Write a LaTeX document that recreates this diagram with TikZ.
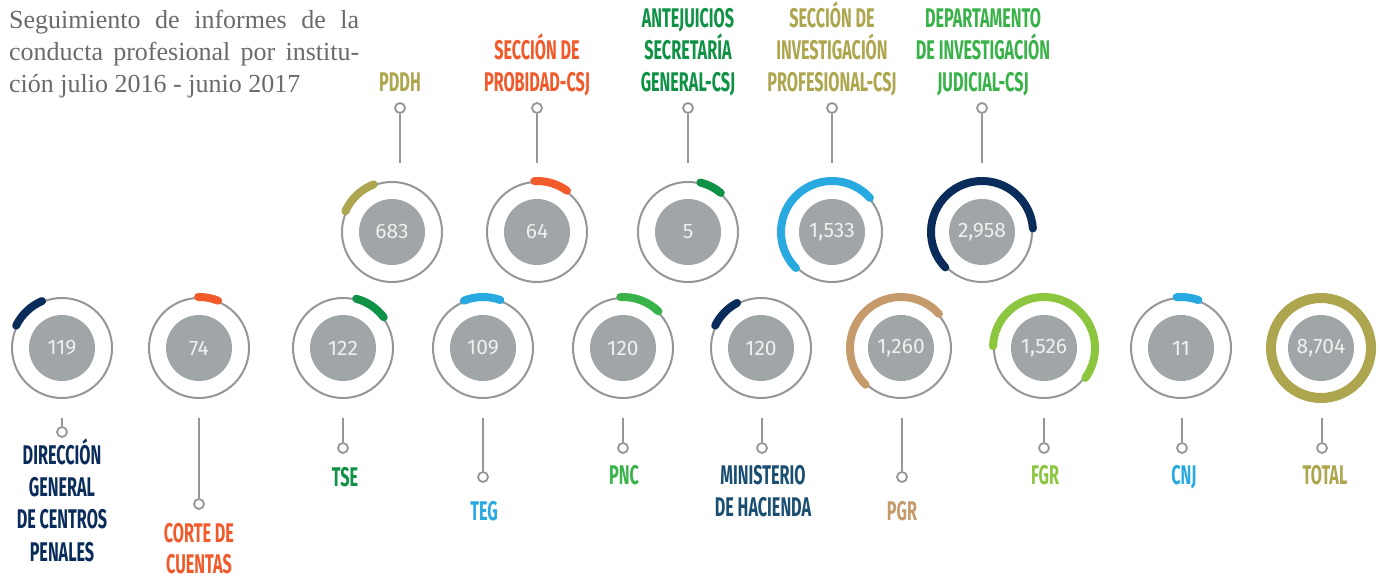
\documentclass[tikz,border=0pt]{standalone}
\usepackage{fontspec}
\setmainfont{Liberation Serif}
\newfontfamily\condfont[FakeStretch=0.6]{Fira Sans}
\newfontfamily\numfont{Fira Sans}
\definecolor{ringgray}{RGB}{150,150,154}
\definecolor{discgray}{RGB}{160,166,167}
\definecolor{numwhite}{RGB}{238,240,240}
\definecolor{titlegray}{RGB}{105,106,108}
\definecolor{cNavy}{RGB}{10,44,90}
\definecolor{cSlate}{RGB}{27,79,114}
\definecolor{cDkGreen}{RGB}{16,146,70}
\definecolor{cGreen}{RGB}{58,178,74}
\definecolor{cLime}{RGB}{140,198,63}
\definecolor{cBlue}{RGB}{40,170,225}
\definecolor{cOrange}{RGB}{241,90,43}
\definecolor{cOlive}{RGB}{173,166,78}
\definecolor{cTan}{RGB}{197,155,108}
\begin{document}
\begin{tikzpicture}[x=1pt,y=1pt,
			dial/.style={circle,draw=ringgray,line width=2pt,minimum size=100pt,inner sep=0pt},
			disc/.style={circle,fill=discgray,minimum size=66pt,inner sep=0pt,text=numwhite,
				font=\numfont\fontsize{21}{21}\selectfont},
			band/.style={line width=8pt,line cap=round},
			knob/.style={circle,draw=ringgray,line width=1.8pt,fill=white,minimum size=10pt,inner sep=0pt},
			stem/.style={draw=ringgray,line width=2pt},
			inst/.style={align=center,inner sep=0pt,anchor=base,font=\condfont\bfseries\fontsize{27}{32.3}\selectfont}]
	\useasboundingbox (0,0) rectangle (1380,578);
	\node[anchor=base west,align=left,inner sep=0pt,text=titlegray,font=\fontsize{26}{32}\selectfont] (title) at (9,485)
		{\makebox[350pt][s]{Seguimiento de informes de la}\\
		 \makebox[350pt][s]{conducta profesional por institu-}\\
		 ción julio 2016 - junio 2017};

	\node[dial] (d683) at (392,346) {};
	\node[disc] (n683) at (d683) {683};
	\draw[band,cOlive] (d683.center) ++(111:51) arc (111:156:51);
	\node[knob] (k683) at (400,470) {};
	\coordinate (s683) at (400,415);
	\draw[stem] (k683) -- (s683);
	\node[inst,cOlive] (l683) at (400,486) {PDDH};

	\node[dial] (d64) at (537,346) {};
	\node[disc] (n64) at (d64) {64};
	\draw[band,cOrange] (d64.center) ++(93:51) arc (93:54:51);
	\node[knob] (k64) at (537,470) {};
	\coordinate (s64) at (537,415);
	\draw[stem] (k64) -- (s64);
	\node[inst,cOrange] (l64) at (537,486) {SECCIÓN DE\\PROBIDAD-CSJ};

	\node[dial] (d5) at (688,346) {};
	\node[disc] (n5) at (d5) {5};
	\draw[band,cDkGreen] (d5.center) ++(76:51) arc (76:50:51);
	\node[knob] (k5) at (688,470) {};
	\coordinate (s5) at (688,415);
	\draw[stem] (k5) -- (s5);
	\node[inst,cDkGreen] (l5) at (688,486) {ANTEJUICIOS\\SECRETARÍA\\GENERAL-CSJ};

	\node[dial] (d1533) at (832,346) {};
	\node[disc] (n1533) at (d1533) {1,533};
	\draw[band,cBlue] (d1533.center) ++(42:51) arc (42:225:51);
	\node[knob] (k1533) at (832,470) {};
	\coordinate (s1533) at (832,415);
	\draw[stem] (k1533) -- (s1533);
	\node[inst,cOlive] (l1533) at (832,486) {SECCIÓN DE\\INVESTIGACIÓN\\PROFESIONAL-CSJ};

	\node[dial] (d2958) at (982,346) {};
	\node[disc] (n2958) at (d2958) {2,958};
	\draw[band,cNavy] (d2958.center) ++(4:51) arc (4:224:51);
	\node[knob] (k2958) at (982,470) {};
	\coordinate (s2958) at (982,415);
	\draw[stem] (k2958) -- (s2958);
	\node[inst,cGreen] (l2958) at (983,486) {DEPARTAMENTO\\DE INVESTIGACIÓN\\JUDICIAL-CSJ};

	\node[dial] (d119) at (62,230) {};
	\node[disc] (n119) at (d119) {119};
	\draw[band,cNavy] (d119.center) ++(113:51) arc (113:154:51);
	\coordinate (s119) at (62,160);
	\node[knob] (k119) at (62,146) {};
	\draw[stem] (s119) -- (k119);
	\node[inst,cNavy] (l119) at (62,17) {DIRECCIÓN\\GENERAL\\DE CENTROS\\PENALES};

	\node[dial] (d74) at (199,230) {};
	\node[disc] (n74) at (d74) {74};
	\draw[band,cOrange] (d74.center) ++(91:51) arc (91:68:51);
	\coordinate (s74) at (199,160);
	\node[knob] (k74) at (199,74) {};
	\draw[stem] (s74) -- (k74);
	\node[inst,cOrange,font=\condfont\bfseries\fontsize{27}{31}\selectfont] (l74) at (199,5) {CORTE DE\\CUENTAS};

	\node[dial] (d122) at (343,230) {};
	\node[disc] (n122) at (d122) {122};
	\draw[band,cDkGreen] (d122.center) ++(75:51) arc (75:37:51);
	\coordinate (s122) at (343,160);
	\node[knob] (k122) at (343,130) {};
	\draw[stem] (s122) -- (k122);
	\node[inst,cDkGreen] (l122) at (345,92) {TSE};

	\node[dial] (d109) at (483,230) {};
	\node[disc] (n109) at (d109) {109};
	\draw[band,cBlue] (d109.center) ++(112:51) arc (112:70:51);
	\coordinate (s109) at (483,160);
	\node[knob] (k109) at (483,101) {};
	\draw[stem] (s109) -- (k109);
	\node[inst,cBlue] (l109) at (484,58) {TEG};

	\node[dial] (d120a) at (623,230) {};
	\node[disc] (n120a) at (d120a) {120};
	\draw[band,cGreen] (d120a.center) ++(93:51) arc (93:46:51);
	\coordinate (s120a) at (623,160);
	\node[knob] (k120a) at (623,130) {};
	\draw[stem] (s120a) -- (k120a);
	\node[inst,cGreen] (l120a) at (624,93) {PNC};

	\node[dial] (d120b) at (761,230) {};
	\node[disc] (n120b) at (d120b) {120};
	\draw[band,cNavy] (d120b.center) ++(118:51) arc (118:154:51);
	\coordinate (s120b) at (762,160);
	\node[knob] (k120b) at (762,130) {};
	\draw[stem] (s120b) -- (k120b);
	\node[inst,cSlate] (l120b) at (763,61) {MINISTERIO\\DE HACIENDA};

	\node[dial] (d1260) at (901,230) {};
	\node[disc] (n1260) at (d1260) {1,260};
	\draw[band,cTan] (d1260.center) ++(42:51) arc (42:226:51);
	\coordinate (s1260) at (902,160);
	\node[knob] (k1260) at (902,101) {};
	\draw[stem] (s1260) -- (k1260);
	\node[inst,cTan] (l1260) at (902,58) {PGR};

	\node[dial] (d1526) at (1044,230) {};
	\node[disc] (n1526) at (d1526) {1,526};
	\draw[band,cLime] (d1526.center) ++(178:51) arc (178:-36:51);
	\coordinate (s1526) at (1044,160);
	\node[knob] (k1526) at (1044,130) {};
	\draw[stem] (s1526) -- (k1526);
	\node[inst,cLime] (l1526) at (1045,93) {FGR};

	\node[dial] (d11) at (1181,230) {};
	\node[disc] (n11) at (d11) {11};
	\draw[band,cBlue] (d11.center) ++(95:51) arc (95:70:51);
	\coordinate (s11) at (1182,160);
	\node[knob] (k11) at (1182,130) {};
	\draw[stem] (s11) -- (k11);
	\node[inst,cBlue] (l11) at (1184,93) {CNJ};

	\node[dial,draw=cOlive,line width=10pt] (d8704) at (1321,230) {};
	\node[disc] (n8704) at (d8704) {8,704};
	\coordinate (s8704) at (1322,160);
	\node[knob] (k8704) at (1322,130) {};
	\draw[stem] (s8704) -- (k8704);
	\node[inst,cOlive] (l8704) at (1325,93) {TOTAL};
\end{tikzpicture}
\end{document}
